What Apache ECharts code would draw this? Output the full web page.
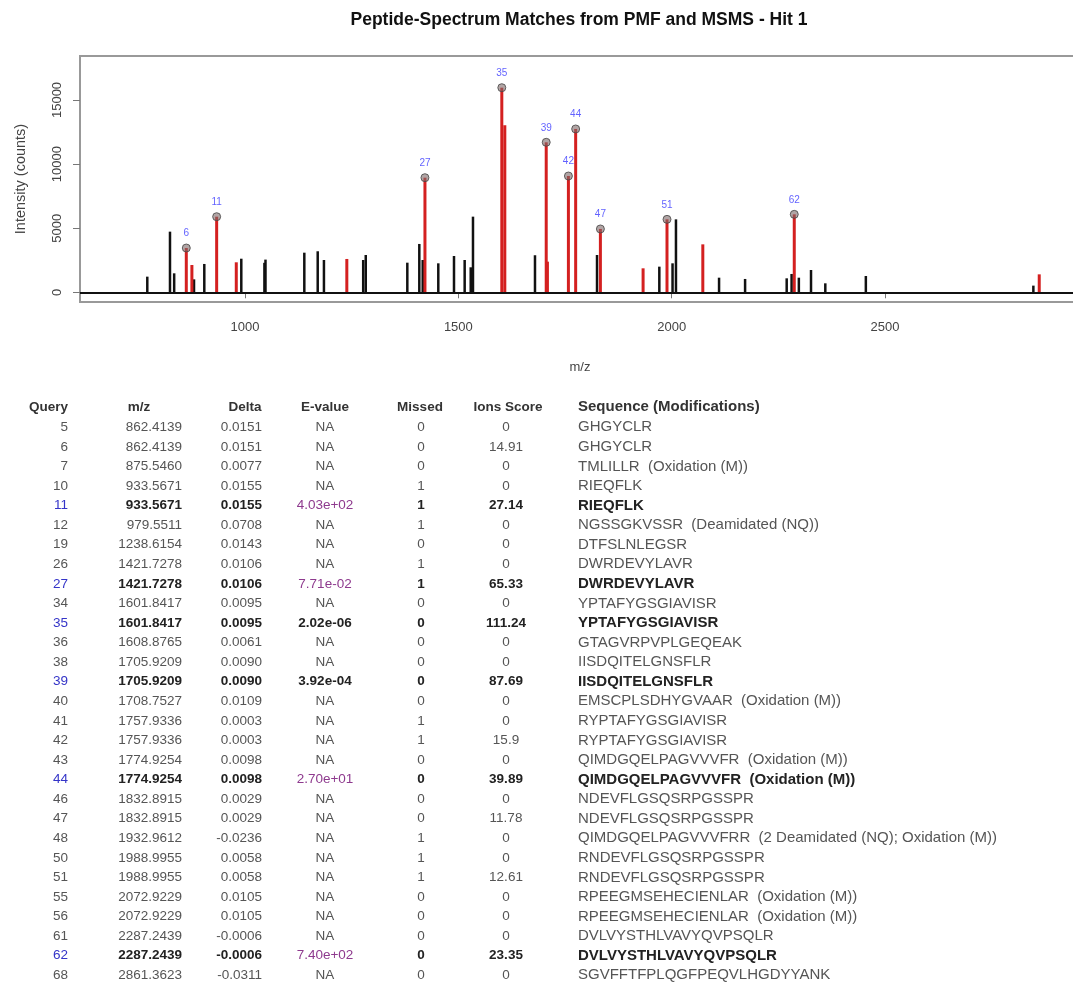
<!DOCTYPE html>
<html>
<head>
<meta charset="utf-8">
<script src="https://cdn.jsdelivr.net/npm/echarts@6/dist/echarts.min.js"></script>
<style>
html,body{margin:0;padding:0;background:#fff;}
#chart{width:1073px;height:984px;}
</style>
</head>
<body>
<div id="chart"></div>
<script>
// ---------------- Spectrum data ----------------
// matched (red) peaks: m/z and intensity
const matchedMz = [862.4139, 875.5460, 933.5671, 979.5511, 1238.6154, 1421.7278, 1601.8417, 1608.8765,
  1705.9209, 1708.7527, 1757.9336, 1774.9254, 1832.8915, 1932.9612, 1988.9955, 2072.9229, 2287.2439, 2861.3623];
const matchedIntensity = [3455, 2130, 5897, 2340, 2600, 8940, 15960, 13030,
  11700, 2390, 9070, 12740, 4940, 1870, 5690, 3740, 6080, 1400];
// unmatched (black) peaks
const unmatchedMz = [771, 824.2, 834, 880.5, 904.6, 991.3, 1045.5, 1048, 1139, 1170.4, 1185, 1277, 1283,
  1380.4, 1408.5, 1416.5, 1453, 1489.8, 1514.8, 1529, 1534.3, 1679.6, 1825, 1971, 2002, 2010, 2111, 2172,
  2269.5, 2281, 2298, 2326.5, 2360, 2455, 2847.6];
const unmatchedIntensity = [1220, 4730, 1480, 1010, 2210, 2620, 2300, 2550, 3090, 3200, 2520, 2520, 2910,
  2310, 3770, 2520, 2260, 2830, 2520, 1950, 5900, 2890, 2910, 2000, 2260, 5690, 1140, 1040,
  1090, 1430, 1140, 1740, 700, 1270, 520];
// labelled peaks (query numbers) and their m/z
const labelQueries = ['6', '11', '27', '35', '39', '42', '44', '47', '51', '62'];
const labelMz = [862.4139, 933.5671, 1421.7278, 1601.8417, 1705.9209, 1757.9336, 1774.9254, 1832.8915, 1988.9955, 2287.2439];

const xTicks = [1000, 1500, 2000, 2500];
const yTicks = [0, 5000, 10000, 15000];

// ---------------- Table data ----------------
const tableHeaders = ['Query', 'm/z', 'Delta', 'E-value', 'Missed', 'Ions Score', 'Sequence (Modifications)'];
const queries = ['5','6','7','10','11','12','19','26','27','34','35','36','38','39','40','41','42','43','44','46','47','48','50','51','55','56','61','62','68'];
const mzValues = ['862.4139','862.4139','875.5460','933.5671','933.5671','979.5511','1238.6154','1421.7278','1421.7278',
  '1601.8417','1601.8417','1608.8765','1705.9209','1705.9209','1708.7527','1757.9336','1757.9336','1774.9254','1774.9254',
  '1832.8915','1832.8915','1932.9612','1988.9955','1988.9955','2072.9229','2072.9229','2287.2439','2287.2439','2861.3623'];
const deltas = ['0.0151','0.0151','0.0077','0.0155','0.0155','0.0708','0.0143','0.0106','0.0106','0.0095','0.0095','0.0061',
  '0.0090','0.0090','0.0109','0.0003','0.0003','0.0098','0.0098','0.0029','0.0029','-0.0236','0.0058','0.0058','0.0105',
  '0.0105','-0.0006','-0.0006','-0.0311'];
const evalues = ['NA','NA','NA','NA','4.03e+02','NA','NA','NA','7.71e-02','NA','2.02e-06','NA','NA','3.92e-04','NA','NA','NA',
  'NA','2.70e+01','NA','NA','NA','NA','NA','NA','NA','NA','7.40e+02','NA'];
const missed = ['0','0','0','1','1','1','0','1','1','0','0','0','0','0','0','1','1','0','0','0','0','1','1','1','0','0','0','0','0'];
const ionsScores = ['0','14.91','0','0','27.14','0','0','0','65.33','0','111.24','0','0','87.69','0','0','15.9','0','39.89',
  '0','11.78','0','0','12.61','0','0','0','23.35','0'];
const sequences = ['GHGYCLR','GHGYCLR','TMLILLR  (Oxidation (M))','RIEQFLK','RIEQFLK','NGSSGKVSSR  (Deamidated (NQ))',
  'DTFSLNLEGSR','DWRDEVYLAVR','DWRDEVYLAVR','YPTAFYGSGIAVISR','YPTAFYGSGIAVISR','GTAGVRPVPLGEQEAK','IISDQITELGNSFLR',
  'IISDQITELGNSFLR','EMSCPLSDHYGVAAR  (Oxidation (M))','RYPTAFYGSGIAVISR','RYPTAFYGSGIAVISR',
  'QIMDGQELPAGVVVFR  (Oxidation (M))','QIMDGQELPAGVVVFR  (Oxidation (M))','NDEVFLGSQSRPGSSPR','NDEVFLGSQSRPGSSPR',
  'QIMDGQELPAGVVVFRR  (2 Deamidated (NQ); Oxidation (M))','RNDEVFLGSQSRPGSSPR','RNDEVFLGSQSRPGSSPR',
  'RPEEGMSEHECIENLAR  (Oxidation (M))','RPEEGMSEHECIENLAR  (Oxidation (M))','DVLVYSTHLVAVYQVPSQLR',
  'DVLVYSTHLVAVYQVPSQLR','SGVFFTFPLQGFPEQVLHGDYYANK'];
const boldQueries = ['11','27','35','39','44','62'];
const darkEvalueQueries = ['35','39'];

// ---------------- Build chart ----------------
const FONT = '"Liberation Sans", Arial, sans-serif';
const labelIntensity = labelMz.map(m => matchedIntensity[matchedMz.indexOf(m)]);

function stemSeries(mz, inten, color, width, z) {
  return {
    type: 'custom',
    silent: true,
    z: z,
    clip: true,
    data: mz.map((m, i) => [m, inten[i]]),
    renderItem: function (params, api) {
      const p0 = api.coord([api.value(0), 0]);
      const p1 = api.coord([api.value(0), api.value(1)]);
      return {
        type: 'line',
        shape: { x1: p0[0], y1: p0[1], x2: p1[0], y2: p1[1] },
        style: { stroke: color, lineWidth: width }
      };
    }
  };
}

// table graphic elements
const colSpec = [
  { x: 68, align: 'right', hx: 68, halign: 'right', fs: 13.5 },
  { x: 182, align: 'right', hx: 139, halign: 'center', fs: 13.5 },
  { x: 262, align: 'right', hx: 245, halign: 'center', fs: 13.5 },
  { x: 325, align: 'center', hx: 325, halign: 'center', fs: 13.5 },
  { x: 421, align: 'center', hx: 420, halign: 'center', fs: 13.5 },
  { x: 506, align: 'center', hx: 508, halign: 'center', fs: 13.5 },
  { x: 578, align: 'left', hx: 578, halign: 'left', fs: 15 }
];
const headerY = 407;
const rowY0 = 427.3;
const rowStep = 19.57;
const graphics = [];
tableHeaders.forEach((h, c) => {
  graphics.push({
    type: 'text', silent: true,
    style: {
      text: h, x: colSpec[c].hx, y: headerY,
      textAlign: colSpec[c].halign, textVerticalAlign: 'middle',
      font: 'bold ' + colSpec[c].fs + 'px ' + FONT, fill: '#333'
    }
  });
});
queries.forEach((q, r) => {
  const bold = boldQueries.indexOf(q) >= 0;
  const y = rowY0 + r * rowStep;
  const baseFill = bold ? '#222' : '#555';
  const cells = [q, mzValues[r], deltas[r], evalues[r], missed[r], ionsScores[r], sequences[r]];
  cells.forEach((t, c) => {
    const fs = colSpec[c].fs;
    let fill = baseFill, font = (bold ? 'bold ' : '') + fs + 'px ' + FONT;
    if (c === 0 && bold) { fill = '#3434c8'; font = fs + 'px ' + FONT; }
    if (c === 3 && bold) {
      if (darkEvalueQueries.indexOf(q) >= 0) { fill = '#222'; }
      else { fill = '#8e3a8e'; font = fs + 'px ' + FONT; }
    }
    graphics.push({
      type: 'text', silent: true,
      style: {
        text: t, x: colSpec[c].x, y: y,
        textAlign: colSpec[c].align, textVerticalAlign: 'middle',
        font: font, fill: fill
      }
    });
  });
});

const chart = echarts.init(document.getElementById('chart'), null, { renderer: 'canvas' });
chart.setOption({
  animation: false,
  backgroundColor: '#fff',
  title: {
    text: 'Peptide-Spectrum Matches from PMF and MSMS - Hit 1',
    left: 574, top: 6, textAlign: 'center',
    textStyle: { fontFamily: FONT, fontWeight: 'bold', fontSize: 17.5, color: '#111' }
  },
  grid: {
    left: 80, top: 56, width: 1000, height: 246,
    outerBoundsMode: 'none', containLabel: false,
    show: true, borderColor: '#999', borderWidth: 2, backgroundColor: 'transparent'
  },
  xAxis: {
    type: 'value', min: 613.3, max: 2956.9,
    axisLine: { show: false },
    splitLine: { show: false },
    axisTick: { show: true, inside: false, length: 6, customValues: xTicks, lineStyle: { color: '#777', width: 1 } },
    axisLabel: { customValues: xTicks, formatter: v => String(v), color: '#444', fontSize: 13, fontFamily: FONT, margin: 19 },
    name: 'm/z', nameLocation: 'middle', nameGap: 59,
    nameTextStyle: { color: '#444', fontSize: 13, fontFamily: FONT }
  },
  yAxis: {
    type: 'value', min: -757, max: 18431,
    axisLine: { show: false },
    splitLine: { show: false },
    axisTick: { show: true, inside: false, length: 7, customValues: yTicks, lineStyle: { color: '#777', width: 1 } },
    axisLabel: { customValues: yTicks, formatter: v => String(v), color: '#444', fontSize: 13, fontFamily: FONT, rotate: 90, margin: 16 },
    name: 'Intensity (counts)', nameLocation: 'middle', nameGap: 52,
    nameTextStyle: { color: '#444', fontSize: 14.5, fontFamily: FONT }
  },
  series: [
    Object.assign(stemSeries(unmatchedMz, unmatchedIntensity, '#111', 2.5, 2), {
      markLine: {
        silent: true, symbol: 'none', animation: false,
        label: { show: false },
        lineStyle: { color: '#111', width: 2, type: 'solid' },
        data: [{ yAxis: 0 }]
      }
    }),
    stemSeries(matchedMz, matchedIntensity, '#d42020', 3, 3),
    {
      type: 'scatter', z: 4, silent: true,
      data: labelMz.map((m, i) => [m, labelIntensity[i], labelQueries[i]]),
      symbol: 'circle', symbolSize: 8,
      itemStyle: { color: 'rgba(125,105,105,0.75)', borderColor: '#444', borderWidth: 1 },
      label: {
        show: true, position: 'top', distance: 5,
        formatter: p => p.value[2],
        color: '#3a3aff', fontSize: 10, fontFamily: FONT
      }
    }
  ],
  graphic: { elements: graphics }
});
</script>
</body>
</html>
